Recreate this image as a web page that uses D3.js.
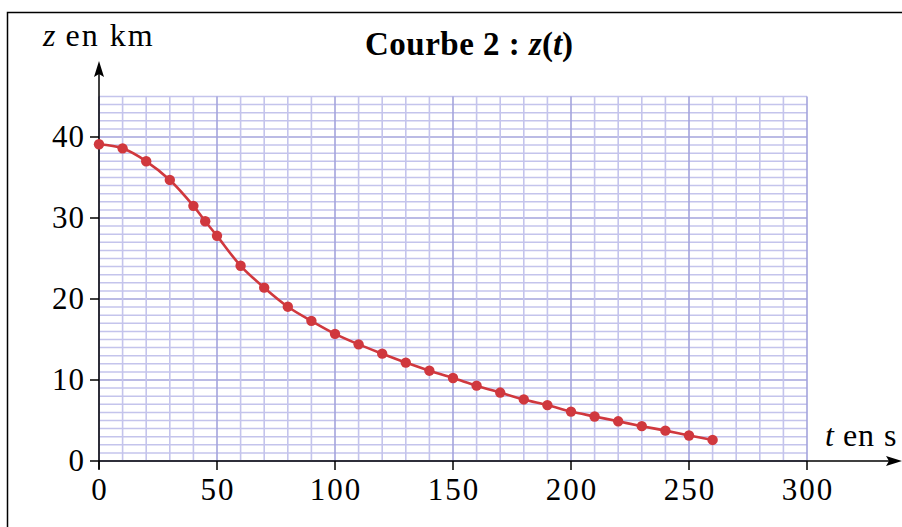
<!DOCTYPE html>
<html><head><meta charset="utf-8">
<script src="https://cdn.jsdelivr.net/npm/d3@7"></script>
<style>html,body{margin:0;padding:0;background:#fff;}svg{display:block;}</style>
</head><body>
<svg id="chart" width="902" height="527"></svg>
<script>
const times = [0,10,20,30,40,45,50,60,70,80,90,100,110,120,130,140,150,160,170,180,190,200,210,220,230,240,250,260];
const zValues = [39.1,38.6,37.0,34.7,31.5,29.6,27.8,24.1,21.4,19.05,17.3,15.7,14.4,13.25,12.15,11.15,10.25,9.3,8.45,7.6,6.9,6.1,5.5,4.9,4.3,3.75,3.15,2.6];
const xTicks = [0,50,100,150,200,250,300];
const yTicks = [0,10,20,30,40];
const title = "Courbe 2 : ";
const xLabel = "en s";
const yLabel = "en km";

const svg = d3.select("#chart");
const x = d3.scaleLinear().domain([0,300]).range([99,807]);
const y = d3.scaleLinear().domain([0,45]).range([461,96.5]);
const font = "'Liberation Serif', 'Times New Roman', serif";

// frame
svg.append("rect").attr("x",7.5).attr("y",12.5).attr("width",1000).attr("height",1000)
  .attr("fill","none").attr("stroke","#000").attr("stroke-width",1.5);

// grid
const g = svg.append("g");
d3.range(0,46,1).forEach(v=>{
  const major = v%10===0;
  g.append("line").attr("x1",x(0)).attr("x2",x(300)).attr("y1",y(v)).attr("y2",y(v))
   .attr("stroke", major?"#a4a4dc":"#c4c4ec").attr("stroke-width", major?1.6:1.5);
});
d3.range(0,301,10).forEach(v=>{
  const major = v%50===0;
  g.append("line").attr("x1",x(v)).attr("x2",x(v)).attr("y1",y(0)).attr("y2",y(45))
   .attr("stroke", major?"#a4a4dc":"#c4c4ec").attr("stroke-width", 1.6);
});

// axes
const ax = svg.append("g");
ax.append("line").attr("x1",x(0)).attr("x2",893).attr("y1",y(0)).attr("y2",y(0)).attr("stroke","#000").attr("stroke-width",1.5);
ax.append("path").attr("d",`M902,${y(0)} L886,${y(0)-5} L889,${y(0)} L886,${y(0)+5} Z`).attr("fill","#000");
ax.append("line").attr("x1",x(0)).attr("x2",x(0)).attr("y1",y(0)+8).attr("y2",70).attr("stroke","#000").attr("stroke-width",1.5);
ax.append("path").attr("d",`M${x(0)},61 L${x(0)-5},77 L${x(0)},74 L${x(0)+5},77 Z`).attr("fill","#000");

xTicks.forEach(v=>{
  ax.append("line").attr("x1",x(v)).attr("x2",x(v)).attr("y1",y(0)).attr("y2",y(0)+9).attr("stroke","#000").attr("stroke-width",1.5);
  ax.append("text").attr("x",x(v)+1).attr("y",500).attr("text-anchor","middle")
    .attr("font-family",font).attr("font-size",31).attr("letter-spacing","2px").attr("fill","#000").text(v);
});
yTicks.forEach(v=>{
  ax.append("line").attr("x1",x(0)-9).attr("x2",x(0)).attr("y1",y(v)).attr("y2",y(v)).attr("stroke","#000").attr("stroke-width",1.5);
  ax.append("text").attr("x",85).attr("y",y(v)+10).attr("text-anchor","end")
    .attr("font-family",font).attr("font-size",31).attr("letter-spacing","1px").attr("fill","#000").text(v);
});

// labels
const yl = svg.append("text").attr("x",43).attr("y",46).attr("font-family",font).attr("font-size",32).attr("fill","#000");
yl.append("tspan").attr("font-style","italic").text("z");
yl.append("tspan").attr("letter-spacing","2px").text(" " + yLabel);

const xl = svg.append("text").attr("x",825).attr("y",446).attr("font-family",font).attr("font-size",32).attr("fill","#000");
xl.append("tspan").attr("font-style","italic").text("t");
xl.append("tspan").attr("letter-spacing","1px").text(" " + xLabel);

const tl = svg.append("text").attr("x",469).attr("y",55).attr("text-anchor","middle").attr("font-family",font).attr("font-size",33).attr("font-weight","bold").attr("fill","#000");
tl.append("tspan").attr("letter-spacing","0.5px").text(title);
tl.append("tspan").attr("font-style","italic").text("z");
tl.append("tspan").text("(");
tl.append("tspan").attr("font-style","italic").text("t");
tl.append("tspan").text(")");

// data
const data = times.map((t,i)=>({t, z:zValues[i]}));
const line = d3.line().x(d=>x(d.t)).y(d=>y(d.z)).curve(d3.curveCatmullRom.alpha(0.5));
svg.append("path").datum(data).attr("d",line).attr("fill","none").attr("stroke","#d0383e").attr("stroke-width",2.6);
svg.selectAll("circle.pt").data(data).enter().append("circle").attr("class","pt")
  .attr("cx",d=>x(d.t)).attr("cy",d=>y(d.z)).attr("r",5.2).attr("fill","#d0383e");
</script>
</body></html>
